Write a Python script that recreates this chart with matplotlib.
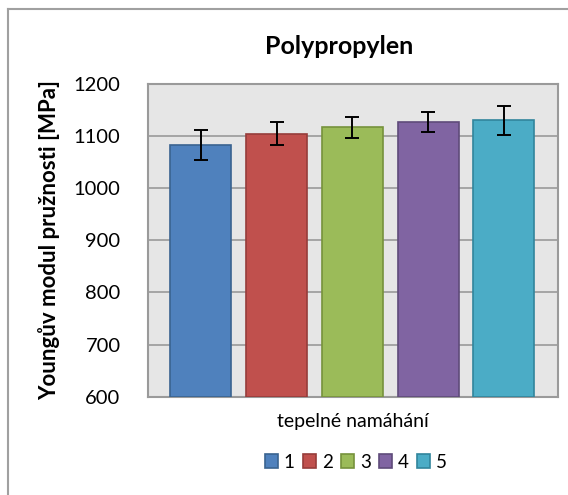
import numpy as np
import matplotlib.pyplot as plt
from matplotlib.lines import Line2D
from matplotlib.patches import Patch

# values
series = ["1", "2", "3", "4", "5"]
modulus = [1083, 1105, 1117, 1127, 1130]
errors = [28, 22, 20, 20, 27]
colors = ["#4F81BD", "#C0504D", "#9BBB59", "#8064A2", "#4BACC6"]
edges = ["#3A6390", "#963C3A", "#76923C", "#5F4B7A", "#31859C"]
yticks = [600, 700, 800, 900, 1000, 1100, 1200]

plt.rcParams["font.family"] = ["Lato", "DejaVu Sans"]

fig = plt.figure(figsize=(5.68, 4.95), dpi=100)
W, H = 568, 495
ax = fig.add_axes([148.3 / W, 1 - 396.7 / H, 410 / W, (396.7 - 84) / H])

# outer chart frame (only left/top visible in the crop)
fig.add_artist(Line2D([7.5 / W, 7.5 / W], [0, 1 - 9 / H], transform=fig.transFigure,
                      color="#A0A0A0", lw=1.5))
fig.add_artist(Line2D([7.5 / W, 1], [1 - 9 / H, 1 - 9 / H], transform=fig.transFigure,
                      color="#A0A0A0", lw=1.5))

x = np.arange(len(series))
ax.set_facecolor("#E6E6E6")
ax.bar(x, [m - 600 for m in modulus], bottom=600, width=0.805, color=colors,
       edgecolor=edges, linewidth=1.2, zorder=3)
ax.errorbar(x, modulus, yerr=errors, fmt="none", ecolor="black", elinewidth=1.4,
            capsize=5, capthick=1.4, zorder=4)

ax.set_ylim(600, 1200)
ax.set_xlim(-0.695, 4.72)
ax.set_yticks(yticks)
ax.set_xticks([])
ax.yaxis.grid(True, color="#9A9A9A", lw=1.2, zorder=0)
ax.tick_params(axis="y", length=0, pad=20, labelsize=14.5)
for s in ax.spines.values():
    s.set_color("#9A9A9A")
    s.set_linewidth(1.5)

fig.text(339 / W, 1 - 47 / H, "Polypropylen", fontsize=18, fontweight="bold",
         ha="center", va="center")
ax.set_ylabel("Youngův modul pružnosti [MPa]", fontsize=16, fontweight="bold", labelpad=10)
ax.set_xlabel("tepelné namáhání", fontsize=14, labelpad=12)

handles = [Patch(facecolor=c, edgecolor=e, lw=1.2) for c, e in zip(colors, edges)]
fig.legend(handles, series, loc="center", bbox_to_anchor=(356 / W, 1 - 462 / H), ncol=5,
           frameon=False, fontsize=13.5, handlelength=0.7, handleheight=0.7,
           handletextpad=0.3, columnspacing=0.45)

fig.savefig("out.png", dpi=100)
